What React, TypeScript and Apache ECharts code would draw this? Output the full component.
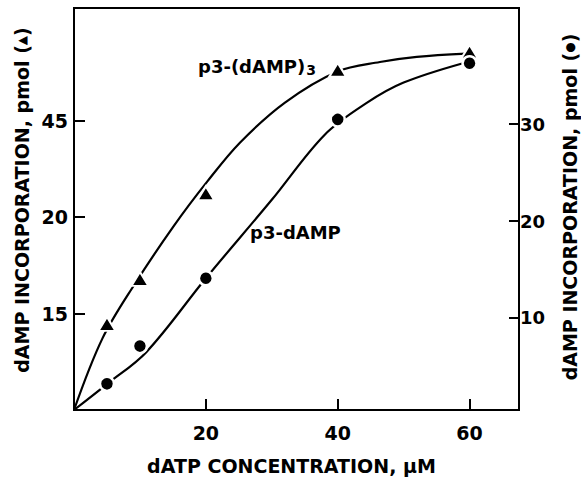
import React, { useEffect, useRef } from "react";
import * as echarts from "echarts";

// ---- data ----
// measured points, triangles (left axis), dATP concentration (µM)
const triX = [5, 10, 20, 40, 60];
const triY = [13.4, 20.4, 33.7, 52.9, 55.7];
// measured points, circles (right axis)
const cirX = [5, 10, 20, 40, 60];
const cirY = [3.2, 7.1, 14.1, 30.5, 36.3];

// hand-drawn fitted curves
const triCurveX = [0, 4.3, 9.1, 15.2, 20.2, 25.2, 32.0, 39.9, 46.4, 52.0, 59.5];
const triCurveY = [0, 11.1, 19.4, 28.7, 35.5, 41.6, 47.8, 52.6, 54.1, 54.9, 55.4];
const cirCurveX = [0, 5.05, 11.0, 20.0, 30.0, 38.0, 44.4, 50.0, 59.0];
const cirCurveY = [0.5, 3.2, 6.5, 14.1, 22.2, 28.9, 32.2, 34.3, 36.3];

// tick labels
const xTickValues = [20, 40, 60];
const leftTickValues = [15, 30, 45];
const leftTickLabels = ["15", "20", "45"];
const rightTickValues = [10, 20, 30];

const xTitle = "dATP CONCENTRATION, μM";
const leftTitle = "dAMP INCORPORATION, pmol (";
const leftSymbol = "▲";
const rightTitle = "dAMP INCORPORATION, pmol (";
const rightSymbol = "●";
const triLabel = "p3-(dAMP)";
const triLabelSub = "3";
const cirLabel = "p3-dAMP";

const FONT = "DejaVu Sans";

export default function App() {
  const ref = useRef<HTMLDivElement>(null);

  useEffect(() => {
    if (!ref.current) return;
    const chart = echarts.init(ref.current, undefined, { renderer: "svg" });

    const pair = (xs: number[], ys: number[]) => xs.map((x, i) => [x, ys[i]]);

    const labelStyle = {
      color: "#000",
      fontFamily: FONT,
      fontWeight: "bold" as const,
      fontSize: 19,
    };

    const symRich = {
      s: { fill: "#000", fontFamily: FONT, fontWeight: "bold", fontSize: 12 },
    };

    chart.setOption({
      animation: false,
      backgroundColor: "#fff",
      grid: {
        left: 74,
        top: 8,
        right: 62,
        bottom: 68,
        show: true,
        borderColor: "#000",
        borderWidth: 2,
        backgroundColor: "transparent",
      },
      xAxis: {
        type: "value",
        min: 0,
        max: 67.5,
        name: xTitle,
        nameLocation: "middle",
        nameGap: 46,
        nameTextStyle: { ...labelStyle, padding: [0, 10, 0, 0] },
        axisLine: { show: true, lineStyle: { color: "#000", width: 2 } },
        axisTick: {
          show: true,
          inside: true,
          length: 11,
          customValues: xTickValues,
          lineStyle: { color: "#000", width: 2 },
        },
        axisLabel: {
          ...labelStyle,
          margin: 13,
          customValues: xTickValues,
        },
        splitLine: { show: false },
      },
      yAxis: [
        {
          type: "value",
          position: "left",
          min: 0,
          max: 62.5,
          axisLine: { show: true, lineStyle: { color: "#000", width: 2 } },
          axisTick: {
            show: true,
            inside: true,
            length: 11,
            customValues: leftTickValues,
            lineStyle: { color: "#000", width: 2 },
          },
          axisLabel: {
            ...labelStyle,
            margin: 6,
            customValues: leftTickValues,
            formatter: (v: number) => {
              const i = leftTickValues.indexOf(v);
              return i >= 0 ? leftTickLabels[i] : "";
            },
          },
          splitLine: { show: false },
        },
        {
          type: "value",
          position: "right",
          min: 0.5,
          max: 42,
          axisLine: { show: true, lineStyle: { color: "#000", width: 2 } },
          axisTick: {
            show: true,
            inside: true,
            length: 10,
            customValues: rightTickValues,
            lineStyle: { color: "#000", width: 2 },
          },
          axisLabel: {
            ...labelStyle,
            fontSize: 18,
            margin: 1,
            customValues: rightTickValues,
          },
          splitLine: { show: false },
        },
      ],
      series: [
        {
          name: "p3-(dAMP)3 curve",
          type: "line",
          yAxisIndex: 0,
          data: pair(triCurveX, triCurveY),
          smooth: 0.35,
          showSymbol: false,
          lineStyle: { color: "#000", width: 2.2 },
          z: 2,
        },
        {
          name: "p3-dAMP curve",
          type: "line",
          yAxisIndex: 1,
          data: pair(cirCurveX, cirCurveY),
          smooth: 0.35,
          showSymbol: false,
          lineStyle: { color: "#000", width: 2.2 },
          z: 2,
        },
        {
          name: "p3-(dAMP)3",
          type: "scatter",
          yAxisIndex: 0,
          data: pair(triX, triY),
          symbol: "triangle",
          symbolSize: [17, 14],
          itemStyle: { color: "#000", opacity: 1, borderColor: "#fff", borderWidth: 2 },
          z: 5,
        },
        {
          name: "p3-dAMP",
          type: "scatter",
          yAxisIndex: 1,
          data: pair(cirX, cirY),
          symbol: "circle",
          symbolSize: 14,
          itemStyle: { color: "#000", opacity: 1, borderColor: "#fff", borderWidth: 2.5 },
          z: 5,
        },
      ],
      graphic: [
        {
          type: "text",
          x: 22,
          y: 200,
          rotation: Math.PI / 2,
          z: 10,
          style: {
            text: leftTitle + "{s|" + leftSymbol + "})",
            fill: "#000",
            font: `bold 19px "${FONT}"`,
            align: "center",
            verticalAlign: "middle",
            rich: symRich,
          },
        },
        {
          type: "text",
          x: 570,
          y: 207,
          rotation: Math.PI / 2,
          z: 10,
          style: {
            text: rightTitle + "{s|" + rightSymbol + "})",
            fill: "#000",
            font: `bold 19px "${FONT}"`,
            align: "center",
            verticalAlign: "middle",
            rich: symRich,
          },
        },
        {
          type: "text",
          left: 198,
          top: 57,
          z: 10,
          style: {
            text: triLabel + "{sub|" + triLabelSub + "}",
            fill: "#000",
            font: `bold 18px "${FONT}"`,
            rich: {
              sub: {
                fill: "#000",
                fontFamily: FONT,
                fontWeight: "bold",
                fontSize: 14,
                verticalAlign: "bottom",
                padding: [7, 0, 0, 1],
              },
            },
          },
        },
        {
          type: "text",
          left: 250,
          top: 223,
          z: 10,
          style: {
            text: cirLabel,
            fill: "#000",
            font: `bold 18px "${FONT}"`,
          },
        },
      ],
    });

    return () => chart.dispose();
  }, []);

  return (
    <div
      ref={ref}
      style={{ position: "fixed", left: 0, top: 0, width: 581, height: 480, background: "#fff" }}
    />
  );
}
